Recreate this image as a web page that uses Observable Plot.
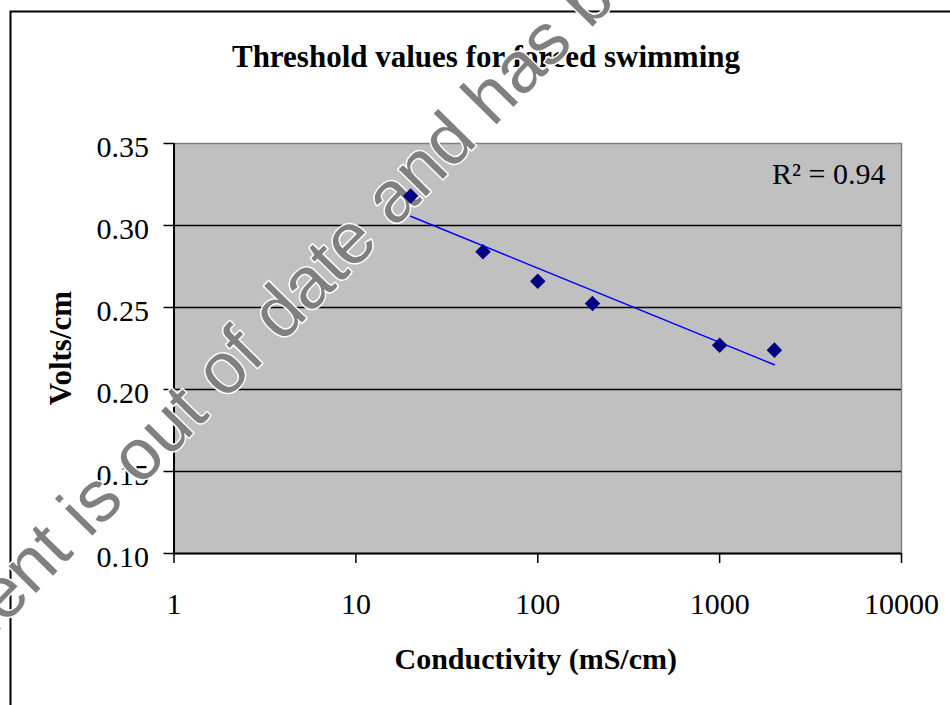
<!DOCTYPE html>
<html>
<head>
<meta charset="utf-8">
<script src="https://cdn.jsdelivr.net/npm/d3@7"></script>
<script src="https://cdn.jsdelivr.net/npm/@observablehq/plot@0.6"></script>
<style>
  html, body { margin: 0; padding: 0; background: white; overflow: hidden; }
</style>
</head>
<body>
<div id="chart"></div>
<script>
// ---- data ----
const conductivity = [20, 50, 100, 200, 1000, 2000];          // mS/cm
const voltsPerCm   = [0.318, 0.284, 0.266, 0.2525, 0.227, 0.224];
const xTicks = [1, 10, 100, 1000, 10000];
const yTicks = [0.10, 0.15, 0.20, 0.25, 0.30, 0.35];
const gridValues = [0.15, 0.20, 0.25, 0.30];
const titleText = "Threshold values for forced swimming";
const xLabel = "Conductivity (mS/cm)";
const yLabel = "Volts/cm";
const r2Label = "R\u00B2 = 0.94";
const watermark = "This document is out of date and has been withdrawn";

const points = conductivity.map((c, i) => ({c, v: voltsPerCm[i]}));

// logarithmic trendline (least squares of v on log10 c)
const lx = conductivity.map(Math.log10);
const mx = d3.mean(lx), my = d3.mean(voltsPerCm);
const slope = d3.sum(lx, (x, i) => (x - mx) * (voltsPerCm[i] - my)) / d3.sum(lx, x => (x - mx) ** 2);
const intercept = my - slope * mx;
const trend = [conductivity[0], conductivity[conductivity.length - 1]]
  .map(c => ({c, v: intercept + slope * Math.log10(c)}));

const serif = "'Liberation Serif', 'Times New Roman', serif";

const chart = Plot.plot({
  width: 950,
  height: 705,
  marginLeft: 173.5,
  marginRight: 49,
  marginTop: 143,
  marginBottom: 152,
  style: {fontFamily: serif, fontSize: "30px", background: "white", overflow: "hidden"},
  x: {type: "log", domain: [1, 10000], nice: false},
  y: {domain: [0.10, 0.35], nice: false},
  marks: [
    // outer chart border (top and left visible)
    Plot.frame({stroke: "black", strokeWidth: 2, insetLeft: -163.5, insetTop: -132, insetRight: -100, insetBottom: -200}),
    // plot area
    Plot.frame({fill: "#c0c0c0", stroke: "#808080", strokeWidth: 1.5}),
    Plot.ruleY(gridValues, {stroke: "black", strokeWidth: 1.5}),
    Plot.ruleY([0.10], {stroke: "black", strokeWidth: 2}),
    Plot.ruleX([1], {stroke: "black", strokeWidth: 2}),
    // axes
    Plot.axisY({ticks: yTicks, tickSize: 10, fill: null, label: null, strokeWidth: 1.5}),
    Plot.axisY({ticks: yTicks, tickSize: 0, tickPadding: 25, dy: 3.5, tickFormat: d3.format(".2f"), label: null, fontSize: 30}),
    Plot.axisX({ticks: xTicks, tickSize: 10, fill: null, label: null, strokeWidth: 1.5}),
    Plot.axisX({ticks: xTicks, tickSize: 0, tickPadding: 39, tickFormat: d => String(d), label: null, fontSize: 30}),
    // titles
    Plot.text([titleText], {text: d => d, frameAnchor: "top", textAnchor: "middle", lineAnchor: "middle",
      dx: -51.75, dy: -86.6, fontSize: 31, fontWeight: "bold", fontFamily: serif}),
    Plot.text([xLabel], {text: d => d, frameAnchor: "bottom", textAnchor: "middle", lineAnchor: "middle",
      dx: -2, dy: 105.4, fontSize: 30, fontWeight: "bold", fontFamily: serif}),
    Plot.text([yLabel], {text: d => d, frameAnchor: "left", textAnchor: "middle", lineAnchor: "middle",
      rotate: -90, dx: -113.1, dy: -0.5, fontSize: 31, fontWeight: "bold", fontFamily: serif}),
    Plot.text([r2Label], {text: d => d, frameAnchor: "top-right", textAnchor: "end", lineAnchor: "middle",
      dx: -16, dy: 30.4, fontSize: 30, fontFamily: serif}),
    // watermark
    Plot.text([watermark], {text: d => d, frameAnchor: "top-left", textAnchor: "start", lineAnchor: "bottom",
      dx: -432.3, dy: 748.9, rotate: -45.5, fontSize: 72.5, fontFamily: "'Liberation Sans', Arial, sans-serif",
      fill: "#808080", stroke: "white", strokeWidth: 3, paintOrder: "stroke"}),
    // trendline and data
    Plot.line(trend, {x: "c", y: "v", stroke: "#0000ff", strokeWidth: 1.5}),
    Plot.dot(points, {x: "c", y: "v", symbol: "diamond2", r: 7, fill: "#000080", stroke: "none"})
  ]
});
document.getElementById("chart").appendChild(chart);
</script>
</body>
</html>
